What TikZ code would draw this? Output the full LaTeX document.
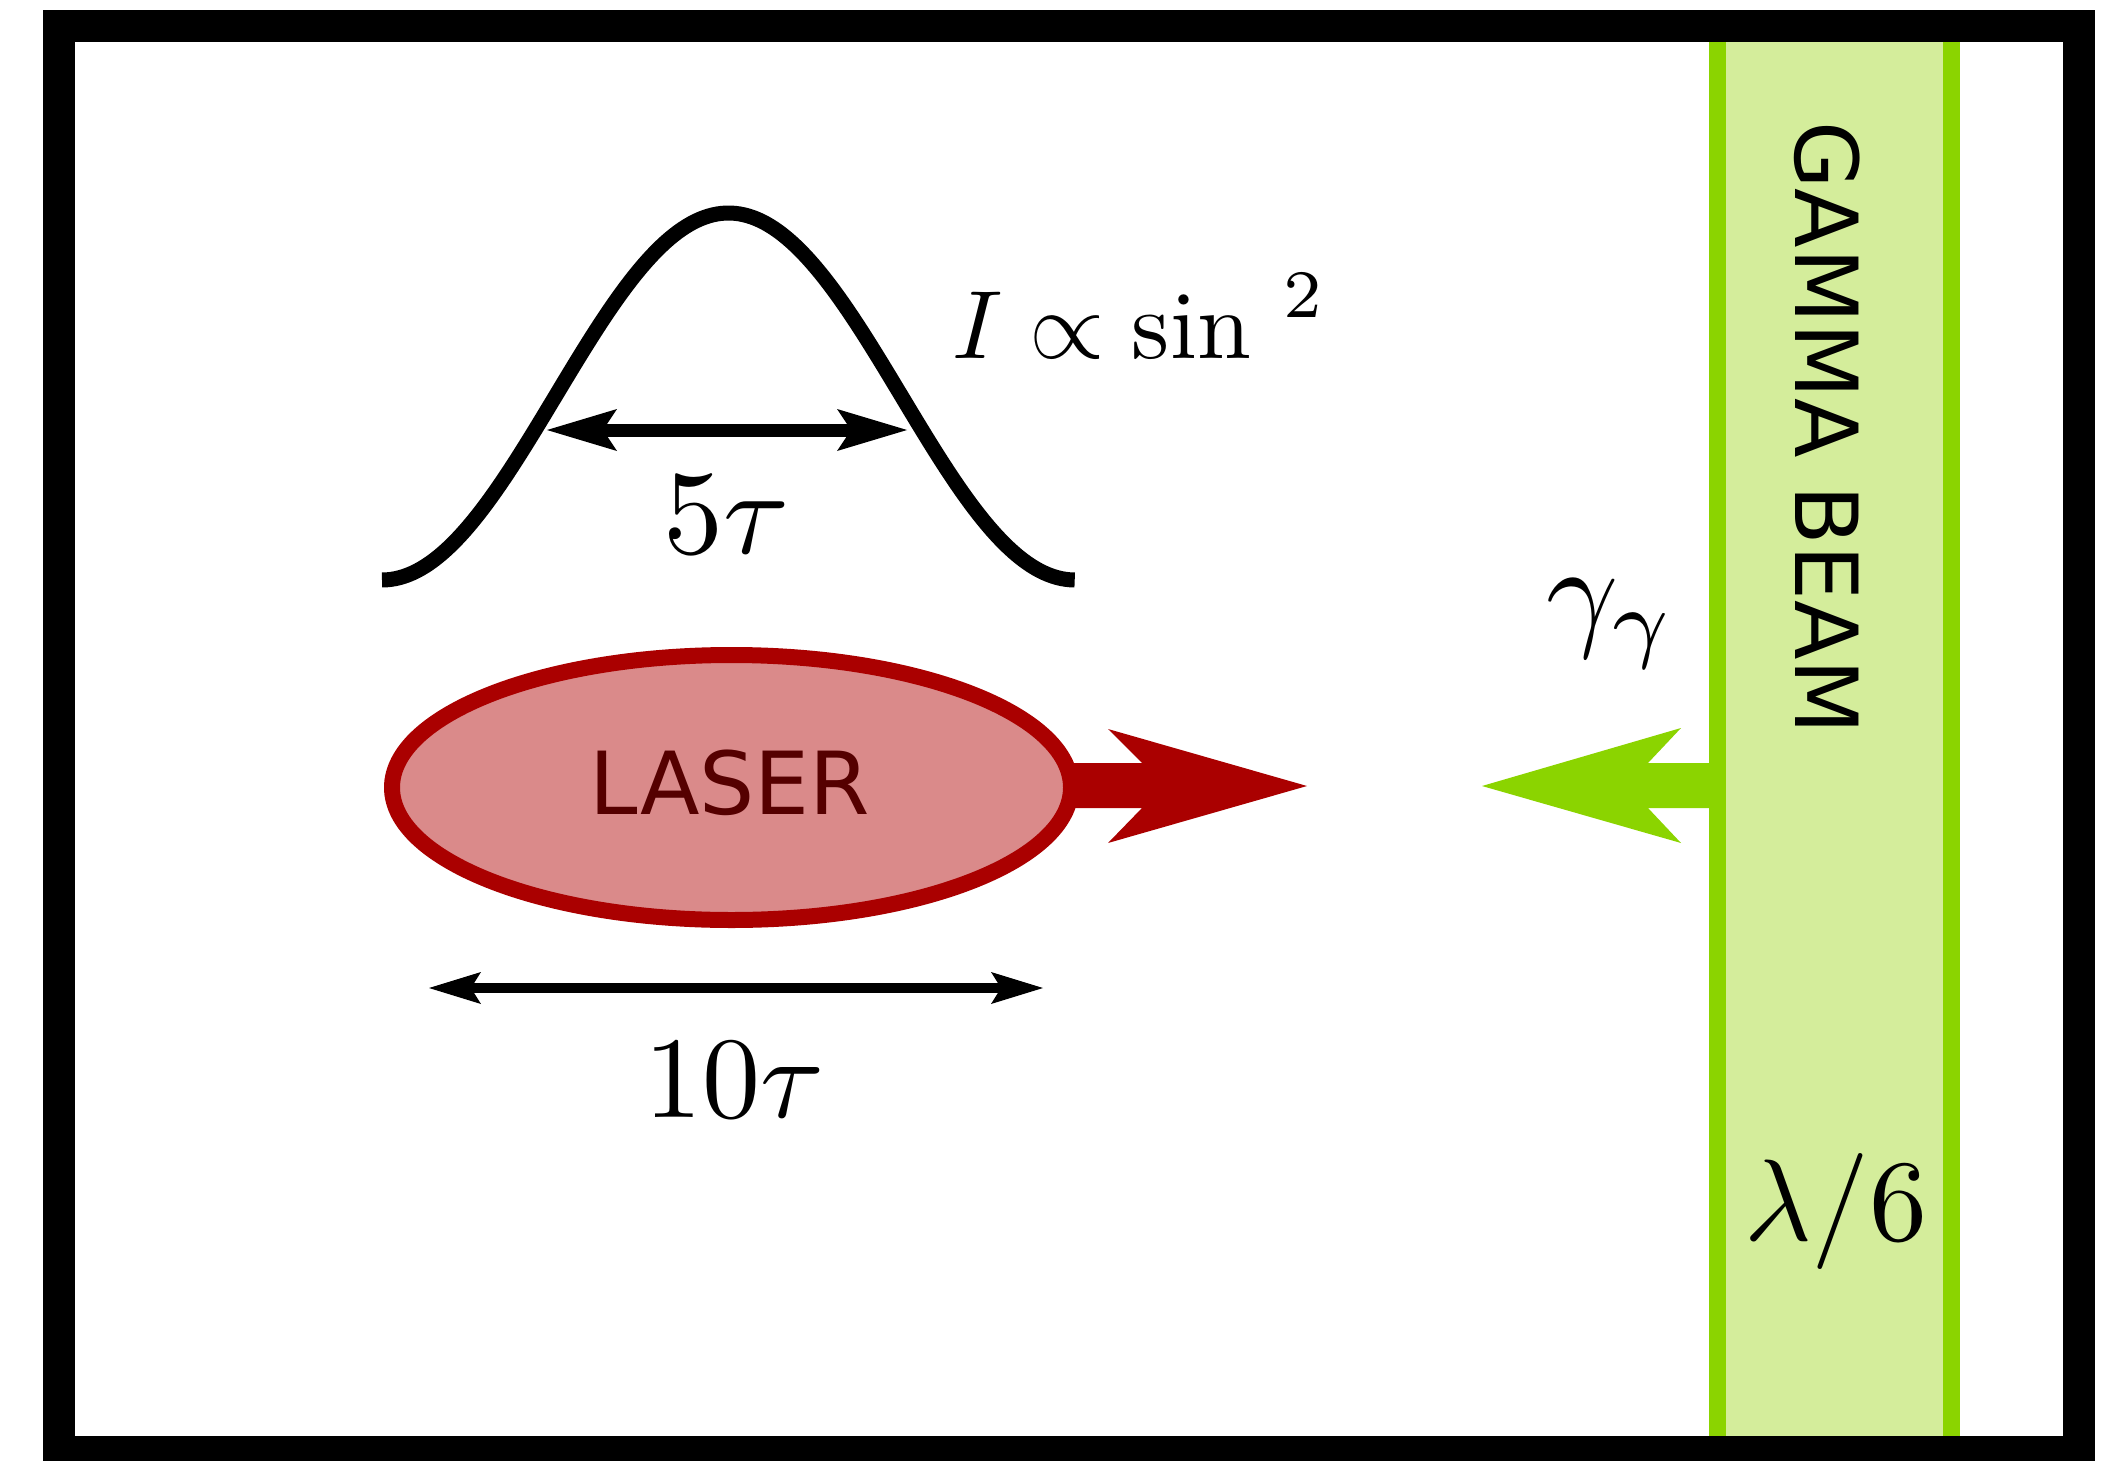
\documentclass[tikz,border=0pt]{standalone}
\usepackage{fontspec}
\newfontfamily\dejavu{DejaVu Sans}
\usetikzlibrary{arrows.meta,shapes.geometric,calc}
\definecolor{laserred}{RGB}{170,0,0}
\definecolor{laserfill}{RGB}{218,138,138}
\definecolor{lasertext}{RGB}{85,0,0}
\definecolor{gline}{RGB}{139,212,0}
\definecolor{gfill}{RGB}{212,237,155}
\begin{document}
\begin{tikzpicture}[x=0.5pt,y=-0.5pt,
  mathlbl/.style={inner sep=0pt, anchor=base},
  beamline/.style={gline, line width=8.5pt},
  dimarrowA/.style={line width=6.5pt, {Stealth[length=35pt,width=21pt,inset=7pt,line width=0pt]}-{Stealth[length=35pt,width=21pt,inset=7pt,line width=0pt]}},
  dimarrowB/.style={line width=5pt, {Stealth[length=26pt,width=16pt,inset=5pt,line width=0pt]}-{Stealth[length=26pt,width=16pt,inset=5pt,line width=0pt]}},
  sansbig/.style={font=\dejavu\fontsize{43.5}{50}\selectfont, inner sep=0pt}
]
\clip (0,0) rectangle (2115,1461);

% gamma beam
\fill[gfill] (1717,20) rectangle (1951,1450);
\fill[gline] (1717,763) -- (1648,763) -- (1681,728) -- (1482,786) -- (1681,843) -- (1648,808) -- (1717,808) -- cycle;
\draw[beamline] (1717,20) -- (1717,1450);
\draw[beamline] (1951,20) -- (1951,1450);

% frame
\draw[line width=16pt] (58.5,26.5) rectangle (2079,1451.5);

% pulse envelope
\draw[line width=7.5pt, line join=round] plot[domain=0:1,samples=160] ({382+693*\x},{580-183.5*(1-cos(360*\x))});

% FWHM arrow
\coordinate (f1) at (547,430);
\coordinate (f2) at (907,430);
\draw[dimarrowA] (f1) -- (f2);

% laser arrow and ellipse
\fill[laserred] (1000,763) -- (1142,763) -- (1108,729) -- (1307,786) -- (1108,843) -- (1142,808) -- (1000,808) -- cycle;
\node[ellipse, draw=laserred, fill=laserfill, line width=8pt, minimum width=339.5pt, minimum height=132.5pt, inner sep=0pt] (laser) at (731.5,787.5) {};
\node[sansbig, text=lasertext] (lasertxt) at (730,782.5) {LASER};

% length arrow
\coordinate (l1) at (429,988);
\coordinate (l2) at (1043,988);
\draw[dimarrowB] (l1) -- (l2);

% labels
\node[sansbig, rotate=-90] (gamma) at (1827,428) {GAMMA BEAM};
\node[mathlbl] (fivetau) at (727,553) {\scalebox{6}{$5\tau$}};
\node[mathlbl] (tentau) at (734,1117) {\scalebox{5.8}{$10\tau$}};
\node[mathlbl] (lambda) at (1836,1240) {\scalebox{5.8}{$\lambda/6$}};
\node[anchor=base west, inner sep=0pt] (gg) at (1546,633) {\scalebox{6.3}{$\gamma_\gamma$}};
\node[anchor=base west, inner sep=0pt] (formula) at (952,358) {\scalebox{4.85}{$\displaystyle I\propto\sin\,^{2}$}};
\end{tikzpicture}
\end{document}
